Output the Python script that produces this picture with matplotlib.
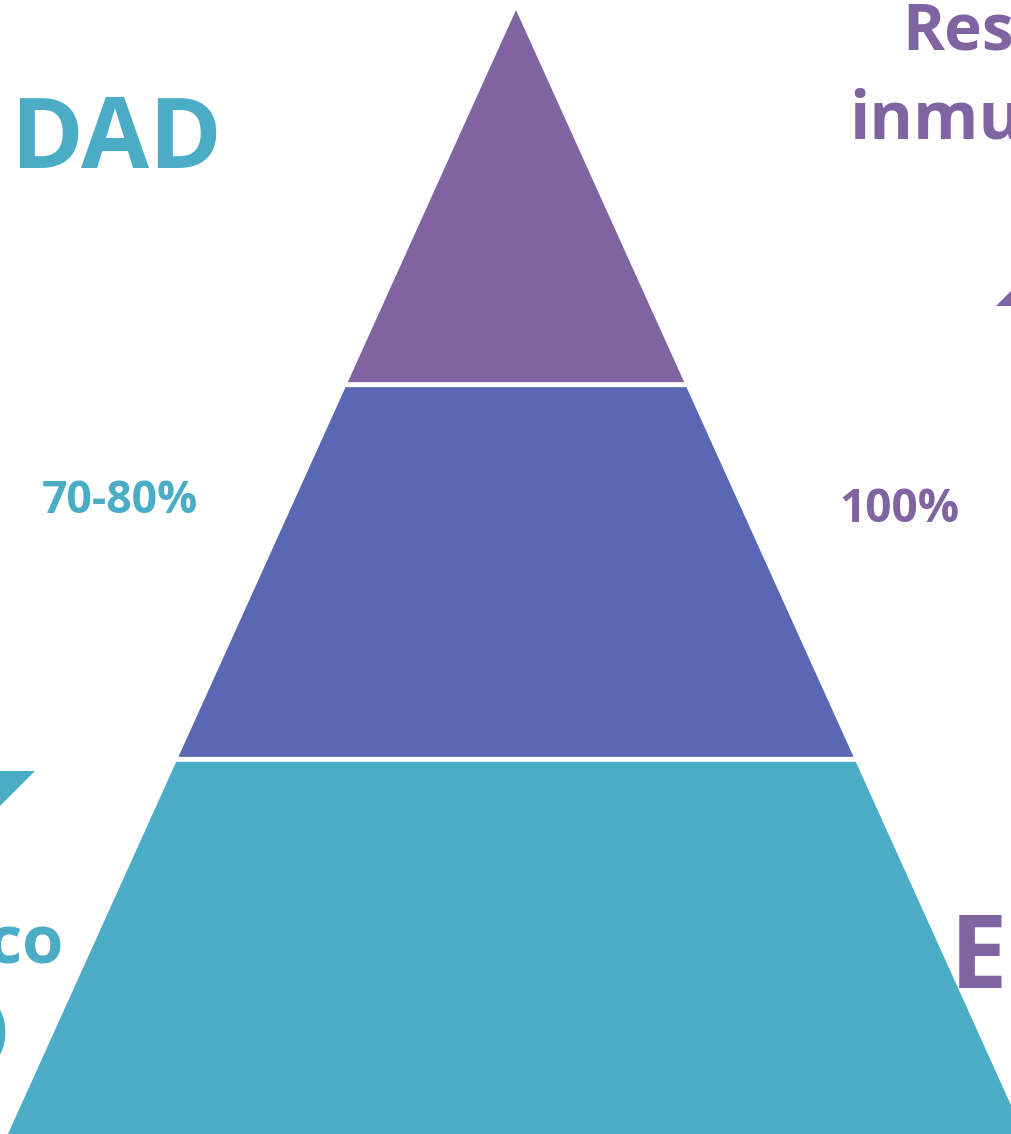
import matplotlib
matplotlib.use("Agg")
import matplotlib.pyplot as plt
from matplotlib.patches import Polygon

# ---- data ----
tiers = ["Nivel superior", "Nivel medio", "Nivel base"]   # top -> bottom
tier_heights = [1, 1, 1]                                    # equal thirds
tier_colors = ["#8064A2", "#5A68B3", "#4BACC6"]
left_pct_label = "70-80%"
right_pct_label = "100%"
left_title = ["EFECTIVI", "DAD"]
right_title = ["Respuesta", "inmunológica"]
left_bottom = ["Riesgo específico", "(individual)"]
right_bottom = "EFICIENCIA"

TEAL = "#4BACC6"
PURPLE = "#8064A2"
FONT = ["Open Sans", "DejaVu Sans"]

W, H = 1012, 1134
fig = plt.figure(figsize=(W / 100, H / 100), dpi=100)
ax = fig.add_axes([0, 0, 1, 1])
ax.set_xlim(0, W)
ax.set_ylim(H, 0)
ax.axis("off")

# pyramid geometry
apex_x, apex_y = 516, 10
base_y = 1134
half_base = 508
gap = 2.5
total = sum(tier_heights)
span = base_y - apex_y

def half_width(y):
    return half_base * (y - apex_y) / span

y0 = apex_y
for name, h, c in zip(tiers, tier_heights, tier_colors):
    y1 = y0 + span * h / total
    ya = y0 + (gap if y0 > apex_y else 0)
    yb = y1 - (gap if y1 < base_y else 0)
    wa, wb = half_width(ya), half_width(yb)
    pts = [(apex_x - wa, ya), (apex_x + wa, ya), (apex_x + wb, yb), (apex_x - wb, yb)]
    ax.add_patch(Polygon(pts, closed=True, facecolor=c, edgecolor="none"))
    y0 = y1

# arrow heads (partially visible)
ax.add_patch(Polygon([(-60, 771), (35, 771), (-60, 866)], closed=True,
                     facecolor=TEAL, edgecolor="none"))
ax.add_patch(Polygon([(996, 306), (1080, 306), (1080, 222)], closed=True,
                     facecolor=PURPLE, edgecolor="none"))

# texts
ax.text(-4, 168, left_title[0], color=TEAL, fontsize=71, fontweight="bold",
        family=FONT, ha="right", va="baseline")
ax.text(222, 168, left_title[1], color=TEAL, fontsize=71, fontweight="bold",
        family=FONT, ha="right", va="baseline")
ax.text(902, 50, right_title[0], color=PURPLE, fontsize=46, fontweight="bold",
        family=FONT, ha="left", va="baseline")
ax.text(849, 139, right_title[1], color=PURPLE, fontsize=48, fontweight="bold",
        family=FONT, ha="left", va="baseline")
ax.text(120, 513, left_pct_label, color=TEAL, fontsize=32, fontweight="bold",
        family=FONT, ha="center", va="baseline")
ax.text(899, 522, right_pct_label, color=PURPLE, fontsize=33, fontweight="bold",
        family=FONT, ha="center", va="baseline")
ax.text(63, 963, left_bottom[0], color=TEAL, fontsize=48, fontweight="bold",
        family=FONT, ha="right", va="baseline")
ax.text(8, 1050, left_bottom[1], color=TEAL, fontsize=48, fontweight="bold",
        family=FONT, ha="right", va="baseline")
ax.text(950, 988, right_bottom, color=PURPLE, fontsize=74, fontweight="bold",
        family=FONT, ha="left", va="baseline")

fig.savefig("out.png", dpi=100)
